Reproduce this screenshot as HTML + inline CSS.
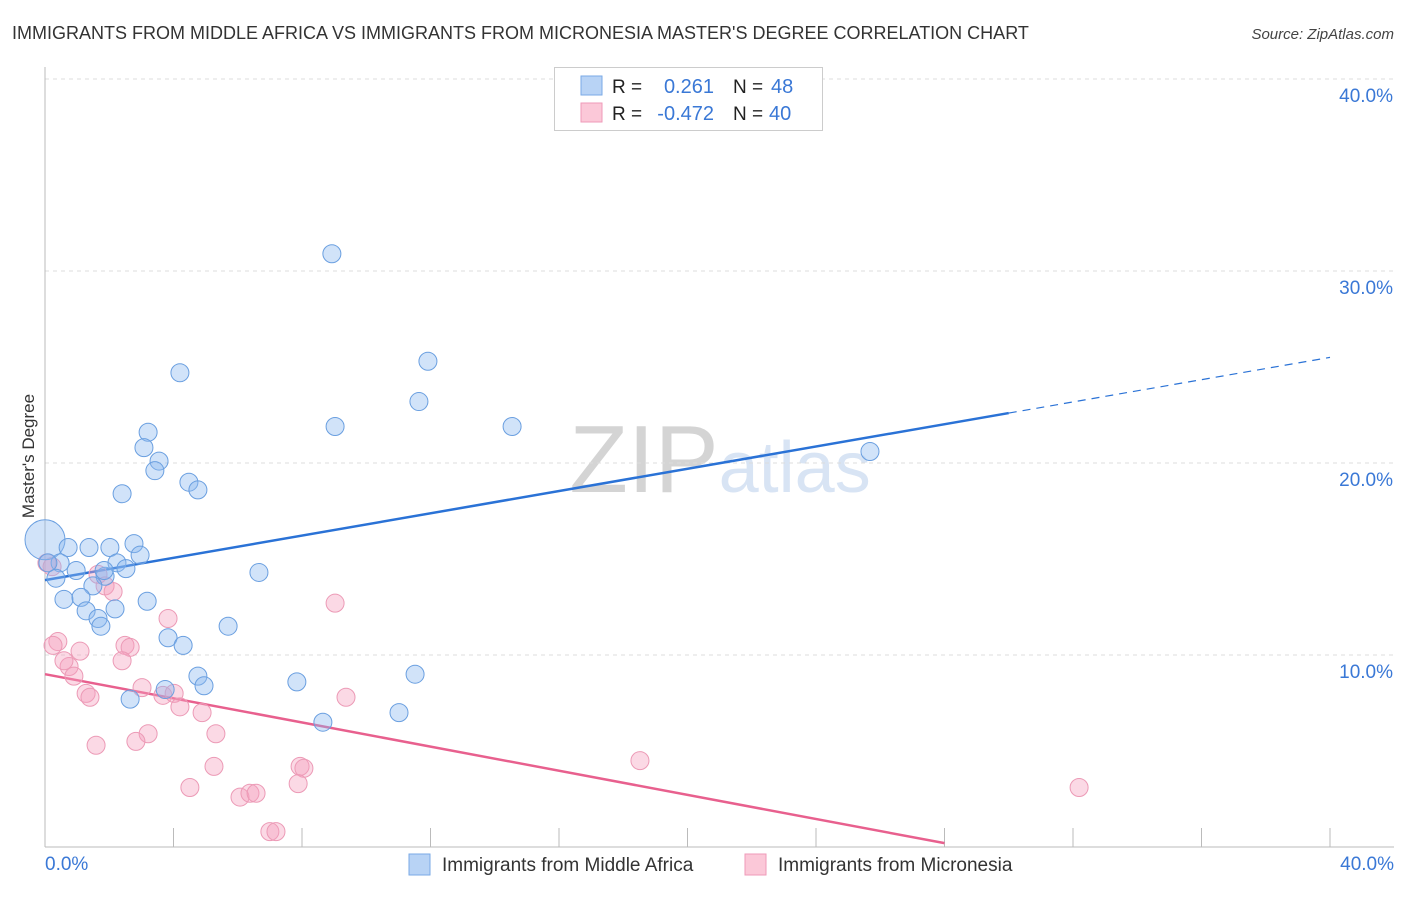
<!DOCTYPE html>
<html><head><meta charset="utf-8"><style>
body{margin:0;background:#fff;font-family:"Liberation Sans",sans-serif;}
svg text{font-family:"Liberation Sans",sans-serif;}
</style></head><body>
<svg id="chart" width="1406" height="892" xmlns="http://www.w3.org/2000/svg">
<text x="12" y="39" font-size="18" fill="#333">IMMIGRANTS FROM MIDDLE AFRICA VS IMMIGRANTS FROM MICRONESIA MASTER'S DEGREE CORRELATION CHART</text>
<text x="1394" y="39" font-size="15" fill="#444" font-style="italic" text-anchor="end">Source: ZipAtlas.com</text>
<text x="34" y="456" font-size="17" fill="#333" text-anchor="middle" transform="rotate(-90 34 456)">Master's Degree</text>
<text x="720" y="492" font-size="96" fill="#ddd" text-anchor="middle" font-family="Liberation Serif"><tspan fill="#d4d4d4">ZIP</tspan><tspan fill="#d8e4f4" font-family="Liberation Sans" font-size="72">atlas</tspan></text>
<g id="grid"></g><g id="axes"></g><g id="trend"></g><g id="pts"></g>
<g>
<rect x="554.5" y="67.5" width="268" height="63" fill="#fff" stroke="#ccc"/>
<rect x="581" y="76" width="21" height="19" fill="#b8d3f5" stroke="#7aaae6"/>
<rect x="581" y="103" width="21" height="19" fill="#fbc8d8" stroke="#ef9ab8"/>
<text x="612" y="93" font-size="19" fill="#222">R =</text><text x="714" y="93" font-size="20" fill="#3a78d6" text-anchor="end">0.261</text>
<text x="733" y="93" font-size="19" fill="#222">N =</text><text x="771" y="93" font-size="20" fill="#3a78d6">48</text>
<text x="612" y="120" font-size="19" fill="#222">R =</text><text x="714" y="120" font-size="20" fill="#3a78d6" text-anchor="end">-0.472</text>
<text x="733" y="120" font-size="19" fill="#222">N =</text><text x="769" y="120" font-size="20" fill="#3a78d6">40</text>
</g>
<g>
<rect x="409" y="854" width="21" height="21" fill="#b8d3f5" stroke="#7aaae6"/>
<text x="442" y="871" font-size="19" fill="#333">Immigrants from Middle Africa</text>
<rect x="745" y="854" width="21" height="21" fill="#fbc8d8" stroke="#ef9ab8"/>
<text x="778" y="871" font-size="19" fill="#333">Immigrants from Micronesia</text>
</g>
</svg>
<script>
const xTicks=[0,5,10,15,20,25,30,35,40];
const yTicks=[10,20,30,40];
const yTickLabels=["10.0%","20.0%","30.0%","40.0%"];
const blueX=[0,8.93,11.92,4.2,11.64,9.03,14.54,3.21,3.08,3.55,3.42,25.68,4.48,4.76,2.4,0.72,1.37,2.02,2.77,2.96,0.47,0.97,0.09,2.24,2.52,1.87,0.34,1.49,0.59,1.12,3.18,1.28,2.18,1.65,1.74,5.7,3.83,4.3,6.66,4.76,4.95,7.84,11.52,3.74,2.65,8.65,11.02,1.84];
const blueY=[16.0,30.9,25.3,24.7,23.2,21.9,21.9,21.6,20.8,20.1,19.6,20.6,19.0,18.6,18.4,15.6,15.6,15.6,15.8,15.2,14.8,14.4,14.8,14.8,14.5,14.1,14.0,13.6,12.9,13.0,12.8,12.3,12.4,11.9,11.5,11.5,10.9,10.5,14.3,8.9,8.4,8.6,9.0,8.2,7.7,6.5,7.0,14.4];
const pinkX=[0.06,0.22,1.65,1.87,2.12,0.4,0.25,1.09,2.49,2.65,2.4,0.75,0.59,0.9,1.28,1.4,3.02,3.67,4.02,4.2,4.89,5.32,3.21,2.83,1.59,3.83,9.03,9.37,18.52,32.19,5.26,7.94,8.06,7.88,4.51,6.07,6.38,6.57,7.0,7.19];
const pinkY=[14.8,14.6,14.2,13.6,13.3,10.7,10.5,10.2,10.5,10.4,9.7,9.4,9.7,8.9,8.0,7.8,8.3,7.9,8.0,7.3,7.0,5.9,5.9,5.5,5.3,11.9,12.7,7.8,4.5,3.1,4.2,4.2,4.1,3.3,3.1,2.6,2.8,2.8,0.8,0.8];
const blueTrend=[13.9,25.5];const blueSolidEnd=30;
const pinkTrend=[9.0,-3.57];const pinkEnd=28;
const NS="http://www.w3.org/2000/svg";
const xs=v=>45+v/40*1285, ys=v=>847-v*19.2;
function mk(t,a,p){const e=document.createElementNS(NS,t);for(const k in a)e.setAttribute(k,a[k]);document.getElementById(p).appendChild(e);return e;}
yTicks.forEach((t,i)=>{
 const l=mk('line',{x1:45,x2:1394,y1:ys(t),y2:ys(t),stroke:'#ddd','stroke-dasharray':'4,4'},'grid');
 
 
 const tx=mk('text',{x:1393,y:ys(t)+23,'font-size':19,fill:'#3a78d6','text-anchor':'end'},'grid');
 tx.textContent=yTickLabels[i];
 
 
});
const ax=mk('line',{x1:45,x2:1394,y1:847,y2:847,stroke:'#bbb'},'axes');


const ay=mk('line',{x1:45,x2:45,y1:67,y2:847,stroke:'#bbb'},'axes');


for(let i=0;i<=10;i++){const x=45+i*1285/10;const t=mk('line',{x1:x,x2:x,y1:828,y2:847,stroke:'#bbb'},'axes');
 
 }
[[0,'0.0%','start',45],[40,'40.0%','end',1394]].forEach(d=>{const t=mk('text',{x:d[3],y:870,'font-size':19,fill:'#3a78d6','text-anchor':d[2]},'axes');t.textContent=d[1];
 
 });
const by=x=>blueTrend[0]+(blueTrend[1]-blueTrend[0])*x/40;
const py=x=>pinkTrend[0]+(pinkTrend[1]-pinkTrend[0])*x/40;
let l1=mk('line',{x1:xs(0),y1:ys(by(0)),x2:xs(blueSolidEnd),y2:ys(by(blueSolidEnd)),stroke:'#2a72d6','stroke-width':2.5},'trend');


let l2=mk('line',{x1:xs(blueSolidEnd),y1:ys(by(blueSolidEnd)),x2:xs(40),y2:ys(by(40)),stroke:'#2a72d6','stroke-width':1.2,'stroke-dasharray':'8,6'},'trend');


let l3=mk('line',{x1:xs(0),y1:ys(py(0)),x2:xs(pinkEnd),y2:ys(py(pinkEnd)),stroke:'#e8608e','stroke-width':2.5},'trend');


pinkX.forEach((x,i)=>{const c=mk('circle',{cx:xs(x),cy:ys(pinkY[i]),r:9,fill:'rgba(244,160,190,0.4)',stroke:'#ec9ab6','stroke-width':1},'pts');
 
 });
blueX.forEach((x,i)=>{const c=mk('circle',{cx:xs(x),cy:ys(blueY[i]),r:i===0?20:9,fill:'rgba(140,185,240,0.4)',stroke:'#6a9fe0','stroke-width':1},'pts');
 
 });
</script>
</body></html>
